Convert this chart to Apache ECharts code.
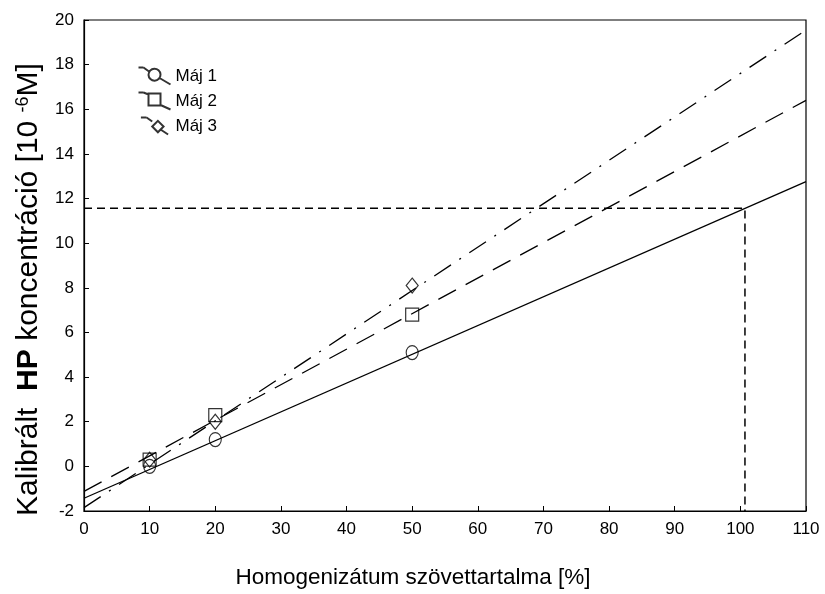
<!DOCTYPE html>
<html>
<head>
<meta charset="utf-8">
<script src="https://cdn.jsdelivr.net/npm/echarts@6/dist/echarts.min.js"></script>
<style>
  html, body { margin: 0; padding: 0; background: #fff; }
  #chart { width: 825px; height: 594px; }
</style>
</head>
<body>
<div id="chart"></div>
<script>
// Tissue content of homogenate (%) for each calibration sample
const tissuePct = [10, 20, 50];
// Measured HP concentration (10^-6 M) per liver sample
const maj1 = [0.0, 1.2, 5.1];
const maj2 = [0.3, 2.3, 6.8];
const maj3 = [0.3, 2.0, 8.1];
// Regression line end points [x, y]
const fit1 = [[0, -1.43], [110, 12.76]];
const fit2 = [[0, -1.12], [110, 16.4]];
const fit3 = [[0, -1.85], [110, 19.55]];
// Read-off guide: tissue content and concentration where fit 1 crosses
const guideX = 100.7;
const guideY = 11.56;
// Axis tick values
const xTicks = { min: 0, max: 110, step: 10 };
const yTicks = { min: -2, max: 20, step: 2 };

const font = '"Liberation Sans", Arial, sans-serif';
const chart = echarts.init(document.getElementById('chart'));

const pointStyle = { color: 'none', borderColor: '#000', borderWidth: 1.2 };
const pairs = ys => tissuePct.map((x, i) => [x, ys[i]]);

// Legend icons: a short stub, then a slanted stroke running through the marker
const iconCircle = 'path://M0 0L5 0M5 0L10.5 4M22 7A6 6 0 1 1 21.99 6.8ZM21 10.5L32 17';
const iconSquare = 'path://M0 0L5 0M5 0L10 2M10 1L22 1L22 13L10 13ZM22 12.5L32 17';
const iconDiamond = 'path://M0 0L5 0M5 0L10 3.5M15 3L20 8L15 13L10 8ZM18 11L24 15';

chart.setOption({
  animation: false,
  backgroundColor: '#fff',
  grid: { left: 84, right: 19, top: 20, bottom: 82, show: true, borderColor: '#000', borderWidth: 1.2 },
  legend: {
    left: 131, top: 60, orient: 'vertical', itemGap: 3,
    itemWidth: 32, itemHeight: 17,
    textStyle: { fontFamily: font, fontSize: 17, color: '#000' },
    data: [
      { name: 'Máj 1', icon: iconCircle },
      { name: 'Máj 2', icon: iconSquare },
      { name: 'Máj 3', icon: iconDiamond }
    ]
  },
  xAxis: {
    type: 'value', min: xTicks.min, max: xTicks.max, interval: xTicks.step,
    name: 'Homogenizátum szövettartalma [%]', nameLocation: 'middle', nameGap: 55,
    nameTextStyle: { fontFamily: font, fontSize: 22.5, color: '#000', padding: [0, 64, 0, 0] },
    axisLine: { onZero: false, lineStyle: { color: '#000', width: 1.2 } },
    axisTick: { inside: true, length: 5, lineStyle: { color: '#000' } },
    axisLabel: { fontFamily: font, fontSize: 17, color: '#000', margin: 10 },
    splitLine: { show: false }
  },
  yAxis: {
    type: 'value', min: yTicks.min, max: yTicks.max, interval: yTicks.step,
    name: '{n|Kalibrált  }{b|HP}{n| koncentráció [10 }{s|-6}{n|M]}',
    nameLocation: 'middle', nameGap: 35,
    nameTextStyle: {
      fontFamily: font, fontSize: 30, color: '#000', padding: [0, 48, 0, 0],
      rich: {
        n: { fontFamily: font, fontSize: 30, color: '#000' },
        b: { fontFamily: font, fontSize: 30, color: '#000', fontWeight: 'bold' },
        s: { fontFamily: font, fontSize: 18, color: '#000', verticalAlign: 'top', padding: [0, 0, 13, 0] }
      }
    },
    axisLine: { show: true, onZero: false, lineStyle: { color: '#000', width: 1.2 } },
    axisTick: { show: true, inside: true, length: 5, lineStyle: { color: '#000' } },
    axisLabel: { fontFamily: font, fontSize: 17, color: '#000', margin: 10 },
    splitLine: { show: false }
  },
  series: [
    {
      name: 'fit1', type: 'line', data: fit1, symbol: 'none', silent: true,
      lineStyle: { color: '#000', width: 1.3, type: 'solid' }
    },
    {
      name: 'fit2', type: 'line', data: fit2, symbol: 'none', silent: true,
      lineStyle: { color: '#000', width: 1.3, type: [20, 11] }
    },
    {
      name: 'fit3', type: 'line', data: fit3, symbol: 'none', silent: true,
      lineStyle: { color: '#000', width: 1.3, type: [20, 10, 2, 10] }
    },
    {
      name: 'guide', type: 'line', symbol: 'none', silent: true,
      data: [[xTicks.min, guideY], [guideX, guideY], [guideX, yTicks.min]],
      lineStyle: { color: '#000', width: 1.5, type: [8, 5] }
    },
    {
      name: 'Máj 1', type: 'scatter', data: pairs(maj1), symbol: 'circle', symbolSize: [12, 14],
      itemStyle: pointStyle, z: 5
    },
    {
      name: 'Máj 2', type: 'scatter', data: pairs(maj2), symbol: 'rect', symbolSize: 13,
      itemStyle: pointStyle, z: 5
    },
    {
      name: 'Máj 3', type: 'scatter', data: pairs(maj3), symbol: 'diamond', symbolSize: [12, 15],
      itemStyle: pointStyle, z: 5
    }
  ]
});
</script>
</body>
</html>
